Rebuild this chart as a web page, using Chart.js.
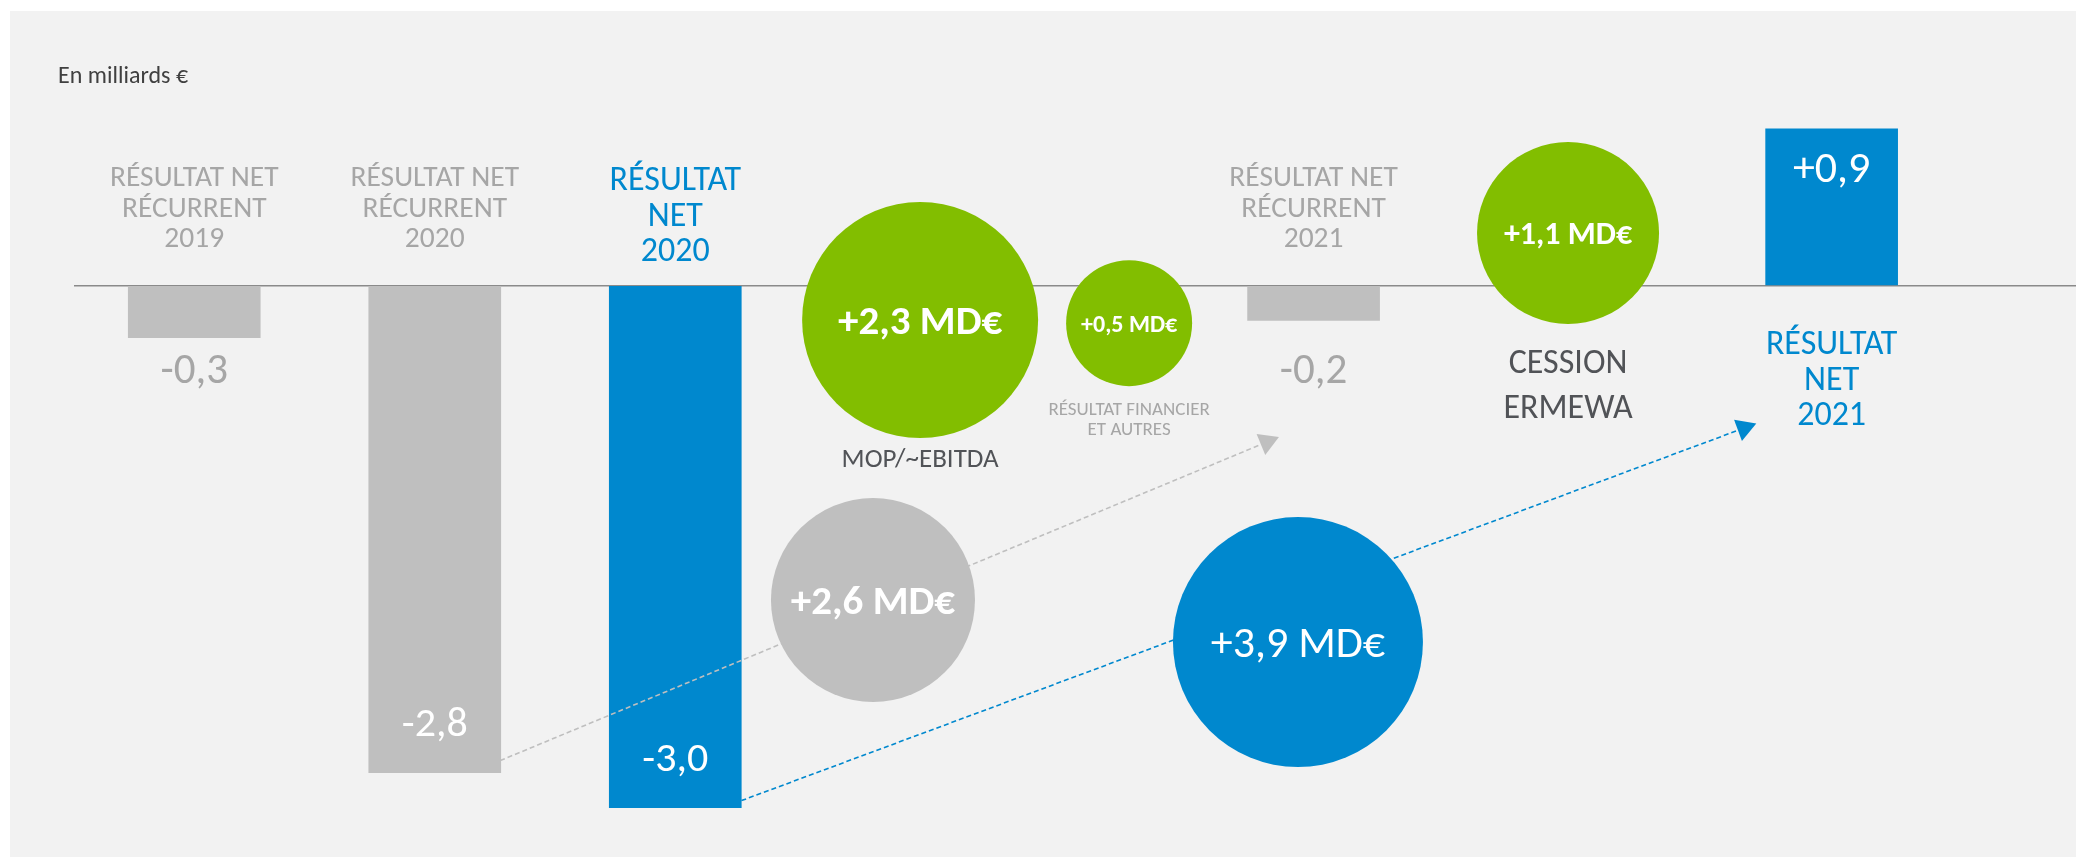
<!DOCTYPE html>
<html lang="fr">
<head>
<meta charset="utf-8">
<title>Résultat net 2021</title>
<script src="https://cdn.jsdelivr.net/npm/chart.js@4.4.0/dist/chart.umd.min.js"></script>
<style>
  html, body { margin: 0; padding: 0; background: #ffffff; }
  #wrap { position: relative; width: 2076px; height: 857px; overflow: hidden; }
  #panel { position: absolute; left: 10px; top: 11px; right: 0; bottom: 0; background: #f2f2f2; }
  #chart { position: absolute; left: 0; top: 0; }
</style>
</head>
<body>
<div id="wrap">
  <div id="panel"></div>
  <canvas id="chart" width="2076" height="857"></canvas>
</div>
<script>
/* DONNEES (en milliards d'euros) */

const barLabels = [
  ['RÉSULTAT NET', 'RÉCURRENT', '2019'],
  ['RÉSULTAT NET', 'RÉCURRENT', '2020'],
  ['RÉSULTAT', 'NET', '2020'],
  ['RÉSULTAT NET', 'RÉCURRENT', '2021'],
  ['RÉSULTAT', 'NET', '2021']
];
const barValues = [-0.3, -2.8, -3.0, -0.2, 0.9];

const bubbleValues = [2.6, 2.3, 0.5, 3.9, 1.1];
const bubbleCaptions = [
  [],
  ['MOP/~EBITDA'],
  ['RÉSULTAT FINANCIER', 'ET AUTRES'],
  [],
  ['CESSION', 'ERMEWA']
];

/* MISE EN PAGE (1 unité en x = une colonne) */

const barSlot = [1, 2, 3, 5.654, 7.808];
const barColors = ['#bfbfbf', '#bfbfbf', '#0088ce', '#bfbfbf', '#0088ce'];

const bubbleSlot = [3.822, 4.018, 4.887, 5.589, 6.712];
const bubbleLevel = [-1.807, -0.198, -0.216, -2.049, 0.302];
const bubbleRadius = [102, 118, 63, 125, 91];
const bubbleColors = ['#bfbfbf', '#82be00', '#82be00', '#0088ce', '#82be00'];
const bubbleFont = [[700, 41], [700, 41], [700, 24], [400, 44], [700, 32]];

const arrowFrom = [[2.272, -2.73], [3.275, -2.96]];
const arrowTo = [[5.460, -0.899], [7.444, -0.819]];

const FONT = "Carlito, Lato, 'Open Sans', sans-serif";
const GREY_TXT = '#a6a6a6';
const DARK_TXT = '#515357';
const BLUE = '#0088ce';

function fmt(v) {
  return (v > 0 ? '+' : '') + v.toFixed(1).replace('.', ',');
}

// texte centré sur la hauteur des capitales
function drawLines(ctx, lines, x, y, size, weight, color, lineH, align) {
  ctx.save();
  ctx.font = weight + ' ' + size + 'px ' + FONT;
  ctx.fillStyle = color;
  ctx.textAlign = align || 'center';
  ctx.textBaseline = 'alphabetic';
  let capH = ctx.measureText('H').actualBoundingBoxAscent;
  lines.forEach((t, i) => ctx.fillText(t, x, y + i * lineH + capH / 2));
  ctx.restore();
}

function arrowRotation(c) {
  let pts = c.dataset.data;
  let xs = c.chart.scales.x, ys = c.chart.scales.y;
  let dx = xs.getPixelForValue(pts[1].x) - xs.getPixelForValue(pts[0].x);
  let dy = ys.getPixelForValue(pts[1].y) - ys.getPixelForValue(pts[0].y);
  return Math.atan2(dy, dx) * 180 / Math.PI + 90;
}

const textPlugin = {
  id: 'textes',
  afterDatasetsDraw(chart) {
    const ctx = chart.ctx;
    const zero = chart.scales.y.getPixelForValue(0);

    drawLines(ctx, ['En milliards €'], 58, 75, 24, 400, '#404040', 0, 'left');

    // libellés et valeurs des barres
    chart.getDatasetMeta(0).data.forEach((bar, i) => {
      let v = barValues[i];
      let net = barColors[i] === BLUE;
      let size = net ? 34 : 29.5;
      let lh = net ? 35.5 : 30.5;
      let col = net ? BLUE : GREY_TXT;
      let lines = barLabels[i];
      if (v < 0) {
        let gap = net ? 36 : 48;
        drawLines(ctx, lines, bar.x, zero - gap - (lines.length - 1) * lh, size, 400, col, lh);
      } else {
        drawLines(ctx, lines, bar.x, zero + 57, size, 400, col, lh);
      }
      if (Math.abs(v) < 0.5) {
        drawLines(ctx, [fmt(v)], bar.x, zero + 83, 43, 400, GREY_TXT, 0);
      } else if (v < 0) {
        drawLines(ctx, [fmt(v)], bar.x, bar.y - 50, 42, 400, '#ffffff', 0);
      } else {
        drawLines(ctx, [fmt(v)], bar.x, bar.y + 39, 44, 400, '#ffffff', 0);
      }
    });

    // bulles
    chart.getDatasetMeta(1).data.forEach((b, i) => {
      let f = bubbleFont[i];
      drawLines(ctx, [fmt(bubbleValues[i]) + ' MD€'], b.x, b.y + 1, f[1], f[0], '#ffffff', 0);
      let cap = bubbleCaptions[i];
      if (!cap.length) return;
      let bottom = b.y + bubbleRadius[i];
      if (cap.length === 1) {
        drawLines(ctx, cap, b.x, bottom + 20.5, 27, 400, DARK_TXT, 0);
      } else if (cap[0] === 'CESSION') {
        drawLines(ctx, cap, b.x, bottom + 37.5, 34, 400, DARK_TXT, 45);
      } else {
        drawLines(ctx, cap, b.x, bottom + 23, 19, 400, GREY_TXT, 19.5);
      }
    });
  }
};

function arrowDataset(k, color) {
  return {
    type: 'line',
    data: [{x: arrowFrom[k][0], y: arrowFrom[k][1]}, {x: arrowTo[k][0], y: arrowTo[k][1]}],
    borderColor: color,
    backgroundColor: color,
    borderWidth: 1.6,
    borderDash: [5, 3],
    fill: false,
    tension: 0,
    pointStyle: 'triangle',
    pointRadius: [0, 13],
    pointBorderWidth: 0,
    pointBackgroundColor: color,
    pointRotation: arrowRotation,
    order: 1
  };
}

const myChart = new Chart(document.getElementById('chart'), {
  type: 'bar',
  data: {
    datasets: [
      {
        data: barValues.map((v, i) => ({x: barSlot[i], y: v})),
        backgroundColor: barColors,
        borderWidth: 0,
        barThickness: 132,
        order: 2
      },
      {
        type: 'bubble',
        data: bubbleValues.map((v, i) => ({x: bubbleSlot[i], y: bubbleLevel[i], r: bubbleRadius[i]})),
        backgroundColor: bubbleColors,
        borderWidth: 0,
        order: 0
      },
      arrowDataset(0, '#bfbfbf'),
      arrowDataset(1, BLUE)
    ]
  },
  options: {
    responsive: false,
    animation: false,
    events: [],
    layout: { autoPadding: false, padding: { left: 74, right: 0, top: 0, bottom: 0 } },
    plugins: {
      legend: { display: false },
      tooltip: { enabled: false }
    },
    scales: {
      x: {
        type: 'linear',
        min: 0.5,
        max: 8.824,
        offset: false,
        display: false
      },
      y: {
        type: 'linear',
        min: -3.284,
        max: 1.641,
        border: { display: false },
        ticks: { display: false },
        afterBuildTicks: s => { s.ticks = [{value: 0}]; },
        grid: {
          drawTicks: false,
          lineWidth: 1.5,
          color: c => c.tick && c.tick.value === 0 ? '#8a8a8a' : 'rgba(0,0,0,0)'
        }
      }
    }
  },
  plugins: [textPlugin]
});
</script>
</body>
</html>
